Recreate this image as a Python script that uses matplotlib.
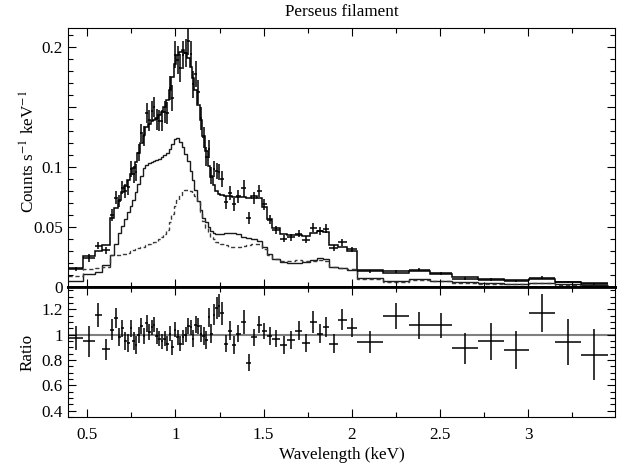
import numpy as np
import matplotlib
matplotlib.use('Agg')
import matplotlib.pyplot as plt
from matplotlib.ticker import FixedLocator, MultipleLocator, FixedFormatter, FuncFormatter

plt.rcParams['font.family'] = ['Liberation Serif', 'DejaVu Serif']
plt.rcParams['mathtext.fontset'] = 'stix'
plt.rcParams['font.size'] = 12.3

# ---------------- data ----------------
bin_edges = [0.394, 0.478, 0.542, 0.582, 0.630, 0.654, 0.673, 0.691, 0.709, 0.725,
             0.741, 0.756, 0.770, 0.785, 0.800, 0.815, 0.830, 0.845, 0.860, 0.874,
             0.887, 0.901, 0.916, 0.931, 0.946, 0.961, 0.976, 0.991, 1.006, 1.021,
             1.036, 1.051, 1.065, 1.080, 1.094, 1.108, 1.123, 1.138, 1.153, 1.168,
             1.183, 1.197, 1.212, 1.226, 1.241, 1.255, 1.274, 1.297, 1.318, 1.343,
             1.370, 1.402, 1.431, 1.460, 1.489, 1.518, 1.550, 1.592, 1.635, 1.677,
             1.720, 1.763, 1.800, 1.836, 1.872, 1.920, 1.972, 2.029, 2.176, 2.321,
             2.440, 2.568, 2.713, 2.860, 3.005, 3.152, 3.298, 3.449]

ratio = [0.974, 0.947, 1.16, 0.884,
         1.04, 1.13, 0.98, 1.05, 0.95, 0.935, 1.05, 0.95, 0.92, 1.00,
         1.07, 0.99, 1.09, 1.02, 1.06, 1.08, 0.99, 0.97, 0.95, 0.97,
         0.93, 1.01, 0.90, 1.04, 0.98, 0.93, 0.98, 1.00, 1.07, 1.06,
         0.97, 1.08, 1.07, 1.01, 0.99, 0.96, 1.14, 1.01, 1.16, 1.21,
         1.23, 1.17,
         0.93, 1.03, 0.92, 1.01, 1.10, 0.78, 0.98, 1.08, 1.03, 0.99,
         0.97, 0.92, 0.96, 1.03, 0.935, 1.10, 1.01, 1.06, 0.93, 1.12, 1.055,
         0.942, 1.15, 1.074, 1.074, 0.892, 0.947, 0.876, 1.174, 0.942, 0.842]

ratio_err = [0.095, 0.12, 0.095, 0.08,
             0.085, 0.08, 0.07, 0.07, 0.07, 0.07, 0.07, 0.07, 0.07, 0.065,
             0.065, 0.065, 0.065, 0.065, 0.06, 0.06, 0.06, 0.06, 0.06, 0.06,
             0.06, 0.06, 0.06, 0.06, 0.06, 0.06, 0.06, 0.06, 0.06, 0.06,
             0.065, 0.065, 0.065, 0.07, 0.07, 0.07, 0.075, 0.075, 0.08, 0.085,
             0.09, 0.09,
             0.07, 0.075, 0.07, 0.07, 0.095, 0.07, 0.065, 0.065, 0.065, 0.07,
             0.065, 0.07, 0.07, 0.075, 0.075, 0.085, 0.075, 0.08, 0.075, 0.08, 0.075,
             0.088, 0.105, 0.104, 0.10, 0.122, 0.145, 0.15, 0.15, 0.18, 0.20]

model_total = [0.0158, 0.026, 0.030, 0.035,
               0.058, 0.066, 0.073, 0.079, 0.084, 0.089, 0.094, 0.099, 0.104, 0.112,
               0.120, 0.127, 0.133, 0.136, 0.138, 0.139, 0.141, 0.143, 0.146, 0.150,
               0.156, 0.164, 0.175, 0.186, 0.193, 0.196, 0.197, 0.195, 0.191, 0.183,
               0.174, 0.164, 0.152, 0.139, 0.126, 0.113, 0.101, 0.092, 0.085, 0.080,
               0.078, 0.077,
               0.076, 0.076, 0.075, 0.075, 0.075, 0.074, 0.076, 0.074, 0.067, 0.057,
               0.049, 0.044, 0.0435, 0.0435, 0.0425, 0.045, 0.0465, 0.046, 0.035, 0.0335, 0.030,
               0.0144, 0.0117, 0.0138, 0.011, 0.0083, 0.0069, 0.0058, 0.0069, 0.0047, 0.0033]

comp1 = [0.005, 0.011, 0.013, 0.019,
         0.027, 0.036, 0.045, 0.051, 0.057, 0.063, 0.068, 0.073, 0.079, 0.086,
         0.093, 0.099, 0.102, 0.103, 0.104, 0.105, 0.106, 0.107, 0.108, 0.110,
         0.112, 0.115, 0.119, 0.123, 0.124, 0.121, 0.117, 0.111, 0.105, 0.097,
         0.089, 0.081, 0.072, 0.064, 0.058, 0.054, 0.050, 0.047, 0.045, 0.044,
         0.044, 0.044,
         0.045, 0.0455, 0.045, 0.044, 0.042, 0.041, 0.040, 0.039, 0.034, 0.028,
         0.024, 0.0215, 0.0205, 0.0205, 0.021, 0.023, 0.0245, 0.024, 0.017, 0.016, 0.0145,
         0.0075, 0.0055, 0.0068, 0.0055, 0.0042, 0.0035, 0.003, 0.0035, 0.0025, 0.0018]

comp2 = [0.0095, 0.015, 0.016, 0.017,
         0.027, 0.027, 0.027, 0.028, 0.028, 0.029, 0.030, 0.031, 0.032, 0.033,
         0.034, 0.034, 0.035, 0.036, 0.037, 0.038, 0.038, 0.040, 0.042, 0.044,
         0.048, 0.054, 0.061, 0.068, 0.073, 0.077, 0.080, 0.081, 0.081, 0.080,
         0.078, 0.076, 0.071, 0.063, 0.055, 0.049, 0.045, 0.042, 0.040, 0.038,
         0.037, 0.036,
         0.035, 0.034, 0.034, 0.034, 0.0345, 0.035, 0.036, 0.036, 0.032, 0.027,
         0.024, 0.022, 0.022, 0.0225, 0.022, 0.022, 0.0225, 0.022, 0.017, 0.016, 0.015,
         0.0068, 0.0048, 0.006, 0.005, 0.0035, 0.003, 0.0028, 0.0033, 0.0023, 0.0016]

top_yticks = [0, 0.05, 0.1, 0.15, 0.2]
top_yticklabels = ['0', '0.05', '0.1', '', '0.2']

# ---------------- derived ----------------
edges = np.array(bin_edges)
centers = (edges[:-1] + edges[1:]) / 2
half = (edges[1:] - edges[:-1]) / 2
ratio_a = np.array(ratio)
rerr_a = np.array(ratio_err)
model_a = np.array(model_total)
counts = ratio_a * model_a
counts_err = rerr_a * model_a

# ---------------- figure ----------------
fig = plt.figure(figsize=(6.28, 4.72), dpi=100)
ax1 = fig.add_axes([0.109, 0.391, 0.870, 0.549])
ax2 = fig.add_axes([0.109, 0.1165, 0.870, 0.2745], sharex=ax1)

ax1.stairs(model_a, edges, baseline=None, color='black', lw=1.1)
ax1.stairs(comp1, edges, baseline=None, color='#1a1a1a', lw=1.0)
ax1.stairs(comp2, edges, baseline=None, color='#3a3a3a', lw=1.0, linestyle=(0, (3, 2)))
ax1.errorbar(centers, counts, xerr=half, yerr=counts_err, fmt='none',
             ecolor='black', elinewidth=1.1, capsize=0)

ax2.axhline(1.0, color='#808080', lw=1.5, zorder=1)
ax2.errorbar(centers, ratio_a, xerr=half, yerr=rerr_a, fmt='none',
             ecolor='black', elinewidth=1.1, capsize=0, zorder=2)

ax1.set_xlim(0.394, 3.49)
ax1.set_ylim(0, 0.2153)
ax2.set_ylim(0.35, 1.374)

for ax in (ax1, ax2):
    ax.tick_params(which='both', direction='in', top=True, right=True, width=0.8)
    ax.tick_params(which='major', length=6, pad=4)
    ax.tick_params(which='minor', length=3.5)
    for s in ax.spines.values():
        s.set_linewidth(0.8)
    ax.xaxis.set_major_locator(MultipleLocator(0.5))
    ax.xaxis.set_minor_locator(MultipleLocator(0.25))

ax1.spines['bottom'].set_linewidth(2.0)
ax2.spines['top'].set_linewidth(2.0)

ax1.yaxis.set_major_locator(FixedLocator(top_yticks))
ax1.yaxis.set_major_formatter(FixedFormatter(top_yticklabels))
ax1.yaxis.set_minor_locator(MultipleLocator(0.01))
ax1.tick_params(labelbottom=False)

ax2.yaxis.set_major_locator(MultipleLocator(0.2))
ax2.yaxis.set_minor_locator(MultipleLocator(0.05))
ax2.yaxis.set_major_formatter(FuncFormatter(lambda v, p: f'{v:g}'))
ax2.xaxis.set_major_formatter(FuncFormatter(lambda v, p: f'{v:g}'))
ax2.tick_params(axis='x', which='major', pad=7)

ax1.set_ylabel(r'Counts s$^{-1}$ keV$^{-1}$')
ax1.yaxis.set_label_coords(-0.054, 0.525)
ax2.set_ylabel('Ratio')
ax2.yaxis.set_label_coords(-0.060, 0.5)
ax2.set_xlabel('Wavelength (keV)', labelpad=3)

fig.text((0.109 + 0.979) / 2, 1 - 12 / 472, 'Perseus filament', ha='center', va='center')

fig.savefig('out.png', dpi=100)
